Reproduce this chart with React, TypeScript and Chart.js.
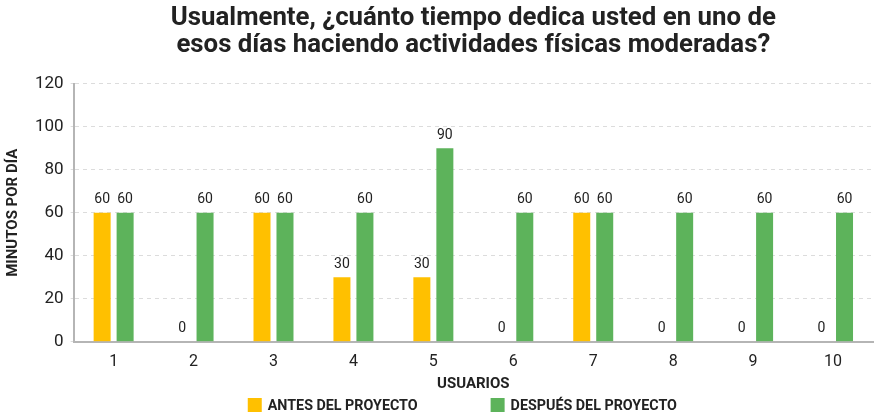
import { useEffect, useRef } from "react";
import { Chart, registerables } from "chart.js";

Chart.register(...registerables);

const usuarios = ["1", "2", "3", "4", "5", "6", "7", "8", "9", "10"];
const antes = [60, 0, 60, 30, 30, 0, 60, 0, 0, 0];
const despues = [60, 60, 60, 60, 90, 60, 60, 60, 60, 60];

const FONT = "Roboto, 'Noto Sans', sans-serif";
const AMARILLO = "#FFC000";
const VERDE = "#5DB35B";

// dibuja el valor encima de cada barra
const valueLabels = {
  id: "valueLabels",
  afterDatasetsDraw(chart: any) {
    const ctx = chart.ctx;
    ctx.save();
    ctx.font = `14px ${FONT}`;
    ctx.fillStyle = "#222";
    ctx.textAlign = "center";
    ctx.textBaseline = "bottom";
    chart.data.datasets.forEach((ds: any, i: number) => {
      const meta = chart.getDatasetMeta(i);
      meta.data.forEach((bar: any, j: number) => {
        ctx.fillText(String(ds.data[j]), bar.x, bar.y - 6);
      });
    });
    ctx.restore();
  },
};

// leyenda propia: la de Chart.js no deja separar mucho los items sin crecer en alto
const bottomLegend = {
  id: "bottomLegend",
  afterDraw(chart: any) {
    const ctx = chart.ctx;
    const box = 14;
    const gapText = 6;
    const gapItems = 73;
    ctx.save();
    ctx.font = `bold 14.3px ${FONT}`;
    const items = chart.data.datasets.map((ds: any) => ({
      text: ds.label,
      color: ds.backgroundColor,
      w: box + gapText + ctx.measureText(ds.label).width,
    }));
    const total = items.reduce((s: number, it: any) => s + it.w, 0) + gapItems * (items.length - 1);
    const center = (chart.chartArea.left + chart.chartArea.right) / 2 - 11;
    let x = center - total / 2;
    const y = chart.height - 10;
    ctx.textBaseline = "middle";
    ctx.textAlign = "left";
    items.forEach((it: any) => {
      ctx.fillStyle = it.color;
      ctx.fillRect(x, y - box / 2, box, box);
      ctx.fillStyle = "#222";
      ctx.fillText(it.text, x + box + gapText, y + 1);
      x += it.w + gapItems;
    });
    ctx.restore();
  },
};

const App = () => {
  const canvasRef = useRef<HTMLCanvasElement>(null);

  useEffect(() => {
    if (!canvasRef.current) return;
    const chart = new Chart(canvasRef.current, {
      type: "bar",
      data: {
        labels: usuarios,
        datasets: [
          {
            label: "ANTES DEL PROYECTO",
            data: antes,
            backgroundColor: AMARILLO,
            categoryPercentage: 0.575,
            barPercentage: 0.74,
          },
          {
            label: "DESPUÉS DEL PROYECTO",
            data: despues,
            backgroundColor: VERDE,
            categoryPercentage: 0.575,
            barPercentage: 0.74,
          },
        ],
      },
      options: {
        responsive: true,
        maintainAspectRatio: false,
        animation: false,
        layout: { padding: { left: 4, right: 3, top: 0, bottom: 22 } },
        scales: {
          x: {
            grid: { display: false },
            border: { color: "#b5b5b5", width: 2 },
            ticks: { color: "#222", font: { family: FONT, size: 16 }, padding: 3 },
            title: {
              display: true,
              text: "USUARIOS",
              color: "#222",
              font: { family: FONT, size: 15, weight: "bold" },
              padding: { top: 0, bottom: 0 },
            },
          },
          y: {
            min: 0,
            max: 120,
            ticks: { stepSize: 20, color: "#222", font: { family: FONT, size: 17 }, padding: 7 },
            grid: { color: "#dcdcdc", drawTicks: true, tickLength: 3 },
            border: { color: "#b5b5b5", width: 2, dash: [4, 4] },
            title: {
              display: true,
              text: "MINUTOS POR DÍA",
              color: "#222",
              font: { family: FONT, size: 15, weight: "bold" },
              padding: { top: 0, bottom: 6 },
            },
          },
        },
        plugins: {
          title: {
            display: true,
            fullSize: false,
            text: [
              "Usualmente, ¿cuánto tiempo dedica usted en uno de",
              "esos días haciendo actividades físicas moderadas?",
            ],
            color: "#222",
            font: { family: FONT, size: 25.8, weight: "bold", lineHeight: 1.06 },
            padding: { top: 5, bottom: 24 },
          },
          legend: { display: false },
          tooltip: { enabled: false },
        },
      },
      plugins: [valueLabels, bottomLegend],
    });
    return () => chart.destroy();
  }, []);

  return (
    <div style={{ position: "fixed", left: 0, top: 0, width: 876, height: 415, background: "#fff" }}>
      <canvas ref={canvasRef} style={{ width: "100%", height: "100%" }} />
    </div>
  );
};

export default App;
